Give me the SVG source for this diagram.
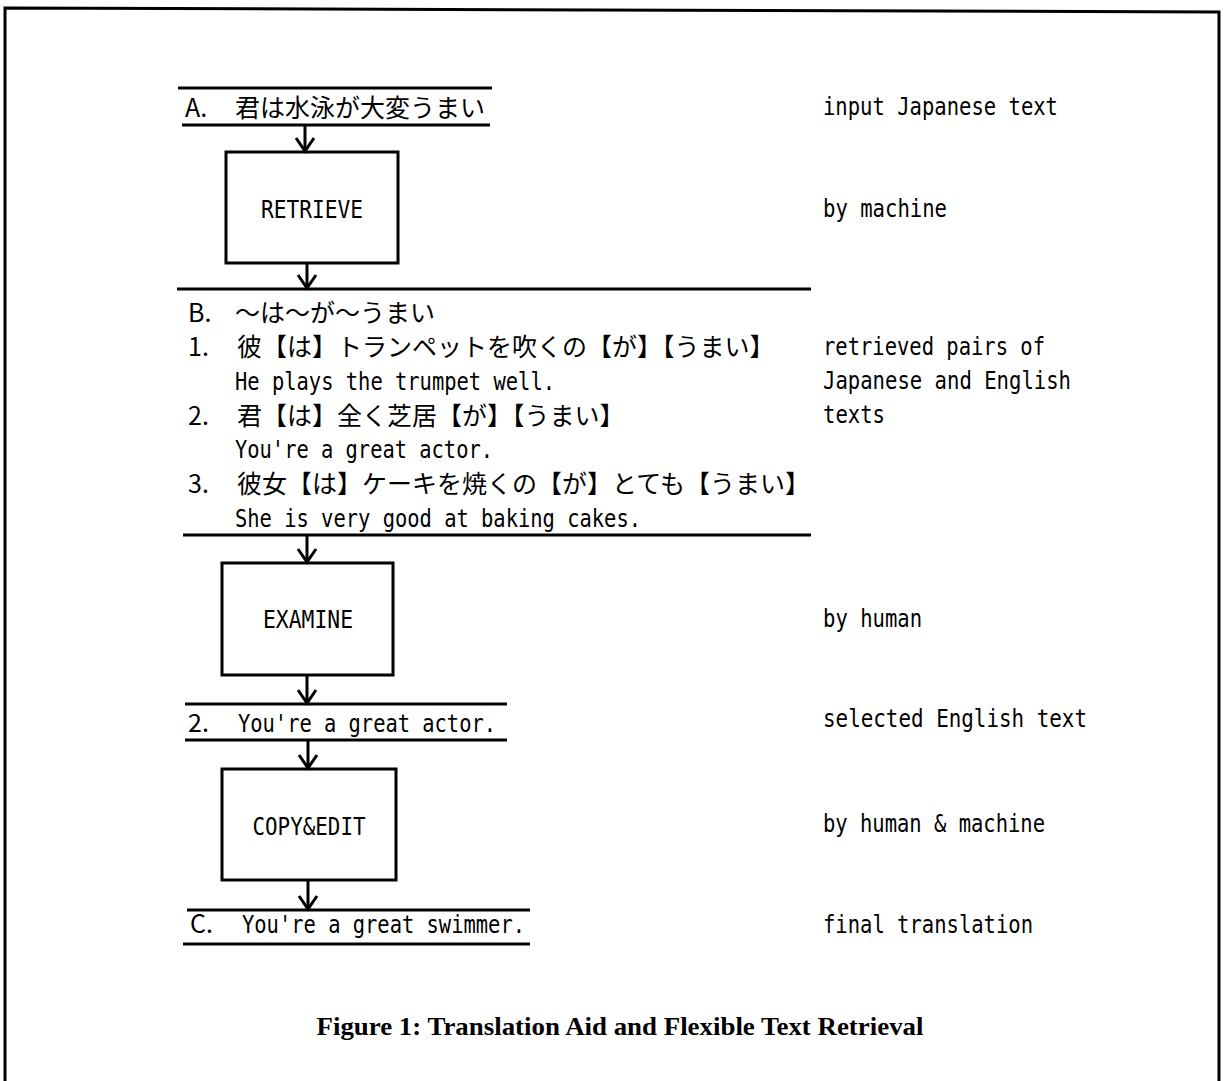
<svg xmlns="http://www.w3.org/2000/svg" width="1226" height="1081" viewBox="0 0 1226 1081">
  <style>
    .bg { fill: #ffffff; }
    .frame { fill: none; stroke: #000; stroke-width: 3; }
    .rule { stroke: #000; stroke-width: 3; fill: none; }
    .box { fill: #fff; stroke: #000; stroke-width: 3; }
    .conn { stroke: #000; stroke-width: 3; fill: none; }
    .m { font-family: "DejaVu Sans Mono", "Liberation Mono", monospace; font-size: 24px; fill: #000; }
    .j { font-family: "Noto Sans CJK JP", "Noto Sans", sans-serif; font-size: 25px; fill: #000; }
    .cap { font-family: "Liberation Serif", "Times New Roman", serif; font-size: 25px; font-weight: bold; fill: #000; }
  </style>
  <defs>
    <marker id="arrow" markerUnits="userSpaceOnUse" markerWidth="22" markerHeight="24" refX="16" refY="11" orient="auto" overflow="visible">
      <path d="M3,2 L16,11 L3,20" fill="none" stroke="#000" stroke-width="3"/>
    </marker>
  </defs>

  <rect class="bg" x="0" y="0" width="1226" height="1081"/>
  <path class="frame" d="M5,1085 L5,8 L1219,12 L1219,1085"/>

  <!-- A: input text -->
  <g id="nodeA">
    <line class="rule" x1="178" y1="88" x2="492" y2="88"/>
    <text class="j" x="185" y="117">A.<tspan x="235">君は水泳が大変うまい</tspan></text>
    <line class="rule" x1="182" y1="125" x2="490" y2="125"/>
  </g>

  <!-- RETRIEVE -->
  <g id="retrieve">
    <rect class="box" x="226" y="152" width="172" height="111"/>
    <text class="m" x="312" y="218" text-anchor="middle" textLength="102" lengthAdjust="spacingAndGlyphs">RETRIEVE</text>
  </g>

  <!-- B: retrieved pairs -->
  <g id="nodeB">
    <line class="rule" x1="177" y1="289" x2="811" y2="289"/>
    <text class="j" x="188" y="322">B.<tspan x="235">～は～が～うまい</tspan></text>
    <text class="j" x="188" y="356">1.<tspan x="237">彼【は】トランペットを吹くの【が】【うまい】</tspan></text>
    <text class="m" x="235" y="390" textLength="320" lengthAdjust="spacingAndGlyphs">He plays the trumpet well.</text>
    <text class="j" x="188" y="425">2.<tspan x="237">君【は】全く芝居【が】【うまい】</tspan></text>
    <text class="m" x="235" y="458" textLength="258" lengthAdjust="spacingAndGlyphs">You're a great actor.</text>
    <text class="j" x="188" y="493">3.<tspan x="237">彼女【は】ケーキを焼くの【が】とても【うまい】</tspan></text>
    <text class="m" x="235" y="527" textLength="406" lengthAdjust="spacingAndGlyphs">She is very good at baking cakes.</text>
    <line class="rule" x1="183" y1="535" x2="811" y2="535"/>
  </g>

  <!-- EXAMINE -->
  <g id="examine">
    <rect class="box" x="222" y="563" width="171" height="112"/>
    <text class="m" x="308" y="628" text-anchor="middle" textLength="90" lengthAdjust="spacingAndGlyphs">EXAMINE</text>
  </g>

  <!-- selected English text -->
  <g id="selected">
    <line class="rule" x1="185" y1="704" x2="507" y2="704"/>
    <text class="j" x="188" y="732">2.</text>
    <text class="m" x="238" y="732" textLength="258" lengthAdjust="spacingAndGlyphs">You're a great actor.</text>
    <line class="rule" x1="185" y1="740" x2="507" y2="740"/>
  </g>

  <!-- COPY&EDIT -->
  <g id="copyedit">
    <rect class="box" x="222" y="769" width="174" height="111"/>
    <text class="m" x="309" y="835" text-anchor="middle" textLength="113" lengthAdjust="spacingAndGlyphs">COPY&amp;EDIT</text>
  </g>

  <!-- C: final translation -->
  <g id="nodeC">
    <line class="rule" x1="187" y1="910" x2="530" y2="910"/>
    <text class="j" x="190" y="933">C.</text>
    <text class="m" x="242" y="933" textLength="283" lengthAdjust="spacingAndGlyphs">You're a great swimmer.</text>
    <line class="rule" x1="183" y1="944" x2="530" y2="944"/>
  </g>

  <!-- connectors -->
  <g id="connectors">
    <line class="conn" x1="305" y1="125" x2="305" y2="151" marker-end="url(#arrow)"/>
    <line class="conn" x1="307" y1="263" x2="307" y2="288" marker-end="url(#arrow)"/>
    <line class="conn" x1="307" y1="535" x2="307" y2="562" marker-end="url(#arrow)"/>
    <line class="conn" x1="307" y1="675" x2="307" y2="703" marker-end="url(#arrow)"/>
    <line class="conn" x1="308" y1="740" x2="308" y2="768" marker-end="url(#arrow)"/>
    <line class="conn" x1="308" y1="880" x2="308" y2="909" marker-end="url(#arrow)"/>
  </g>

  <!-- side annotations -->
  <g id="annotations">
    <text class="m" x="823" y="115" textLength="235" lengthAdjust="spacingAndGlyphs">input Japanese text</text>
    <text class="m" x="823" y="217" textLength="124" lengthAdjust="spacingAndGlyphs">by machine</text>
    <text class="m" x="823" y="355" textLength="222" lengthAdjust="spacingAndGlyphs">retrieved pairs of</text>
    <text class="m" x="823" y="389" textLength="248" lengthAdjust="spacingAndGlyphs">Japanese and English</text>
    <text class="m" x="823" y="423" textLength="62" lengthAdjust="spacingAndGlyphs">texts</text>
    <text class="m" x="823" y="627" textLength="99" lengthAdjust="spacingAndGlyphs">by human</text>
    <text class="m" x="823" y="727" textLength="264" lengthAdjust="spacingAndGlyphs">selected English text</text>
    <text class="m" x="823" y="832" textLength="222" lengthAdjust="spacingAndGlyphs">by human &amp; machine</text>
    <text class="m" x="823" y="933" textLength="210" lengthAdjust="spacingAndGlyphs">final translation</text>
  </g>

  <text class="cap" x="620" y="1035" text-anchor="middle" textLength="607" lengthAdjust="spacingAndGlyphs">Figure 1: Translation Aid and Flexible Text Retrieval</text>
</svg>
